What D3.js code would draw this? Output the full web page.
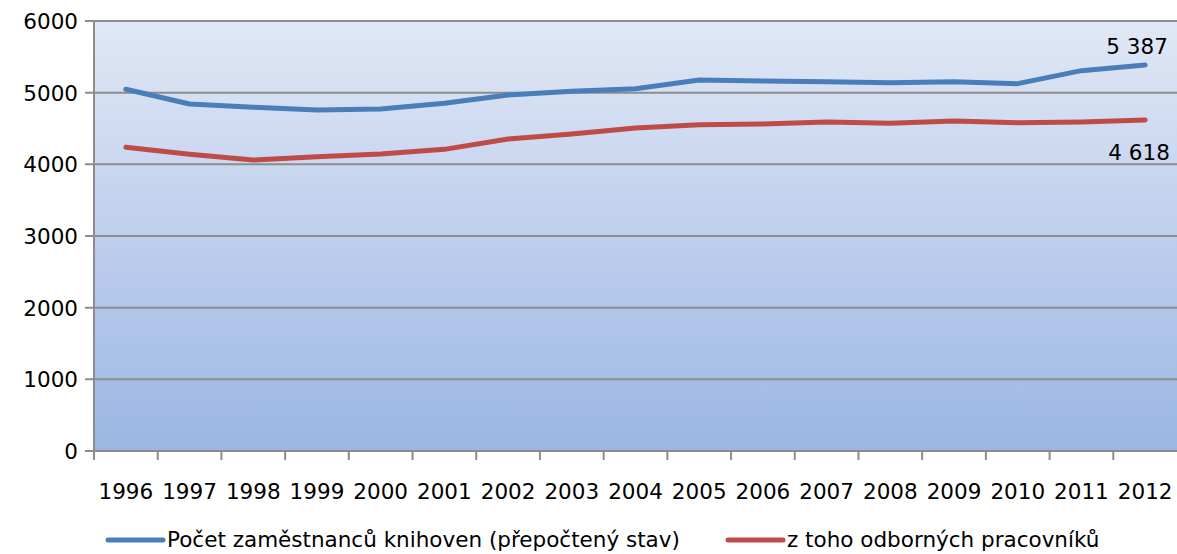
<!DOCTYPE html>
<html>
<head>
<meta charset="utf-8">
<script src="https://cdn.jsdelivr.net/npm/d3@7"></script>
<style>
  body { margin: 0; background: #fff; }
  svg { display: block; font-family: "DejaVu Sans", sans-serif; }
</style>
</head>
<body>
<div id="chart"></div>
<script>
var years = ["1996","1997","1998","1999","2000","2001","2002","2003","2004",
             "2005","2006","2007","2008","2009","2010","2011","2012"];
var staffTotal = [5047,4842,4796,4757,4772,4852,4968,5019,5056,5177,5164,5154,5140,5154,5126,5307,5387];
var staffPro   = [4237,4140,4060,4106,4144,4209,4353,4423,4507,4553,4563,4591,4573,4605,4581,4591,4618];
var seriesNames = ["Počet zaměstnanců knihoven (přepočtený stav)", "z toho odborných pracovníků"];
var yTicks = [0,1000,2000,3000,4000,5000,6000];

var W = 1177, H = 554;
var m = {t: 21, r: 0, b: 103, l: 94};
var w = W - m.l - m.r, h = H - m.t - m.b;
var fs = 21.5;

var svg = d3.select("#chart").append("svg")
    .attr("width", W).attr("height", H);

var defs = svg.append("defs");
var grad = defs.append("linearGradient").attr("id", "bg")
    .attr("x1", 0).attr("y1", 0).attr("x2", 0).attr("y2", 1);
grad.append("stop").attr("offset", "0%").attr("stop-color", "#e1e8f5");
grad.append("stop").attr("offset", "100%").attr("stop-color", "#9bb6e4");

var g = svg.append("g").attr("transform", "translate(" + m.l + "," + m.t + ")");

var x = d3.scaleBand().domain(years).range([0, w]);
var y = d3.scaleLinear().domain([0, 6000]).range([h, 0]);

g.append("rect").attr("width", w).attr("height", h).attr("fill", "url(#bg)");

// gridlines + y ticks
g.selectAll(".grid").data(yTicks).enter().append("line")
    .attr("x1", -9).attr("x2", w)
    .attr("y1", function(d){ return y(d); }).attr("y2", function(d){ return y(d); })
    .attr("stroke", "#8c8c8c").attr("stroke-width", 2);

g.selectAll(".ylab").data(yTicks).enter().append("text")
    .attr("x", -16).attr("y", function(d){ return y(d) + 8; })
    .attr("text-anchor", "end").attr("font-size", fs).attr("fill", "#000")
    .text(function(d){ return d; });

// y axis line
g.append("line").attr("x1", 0).attr("x2", 0).attr("y1", 0).attr("y2", h)
    .attr("stroke", "#8c8c8c").attr("stroke-width", 2);

// x ticks at category boundaries
var bounds = years.map(function(d){ return x(d); });
g.selectAll(".xt").data(bounds).enter().append("line")
    .attr("x1", function(d){ return d; }).attr("x2", function(d){ return d; })
    .attr("y1", h).attr("y2", h + 9)
    .attr("stroke", "#8c8c8c").attr("stroke-width", 2);

g.selectAll(".xlab").data(years).enter().append("text")
    .attr("x", function(d){ return x(d) + x.bandwidth() / 2; })
    .attr("y", h + 48)
    .attr("text-anchor", "middle").attr("font-size", fs).attr("fill", "#000")
    .text(function(d){ return d; });

var line = d3.line()
    .x(function(d, i){ return x(years[i]) + x.bandwidth() / 2; })
    .y(function(d){ return y(d); });

var colors = ["#4a7ebb", "#be4b48"];
[staffTotal, staffPro].forEach(function(s, k){
    g.append("path").datum(s).attr("d", line)
        .attr("fill", "none").attr("stroke", colors[k])
        .attr("stroke-width", 5).attr("stroke-linecap", "round").attr("stroke-linejoin", "round");
});

// end labels
var fmt = function(v){ return d3.format(",")(v).replace(/,/g, " "); };
var last = years.length - 1;
var lx = x(years[last]) + x.bandwidth() / 2;
g.append("text").attr("x", lx - 8).attr("y", y(staffTotal[last]) - 11)
    .attr("text-anchor", "middle").attr("font-size", fs).text(fmt(staffTotal[last]));
g.append("text").attr("x", lx - 6).attr("y", y(staffPro[last]) + 40)
    .attr("text-anchor", "middle").attr("font-size", fs).text(fmt(staffPro[last]));

// legend
var legX = [108, 728];
seriesNames.forEach(function(name, k){
    svg.append("line").attr("x1", legX[k]).attr("x2", legX[k] + 55)
        .attr("y1", 540).attr("y2", 540)
        .attr("stroke", colors[k]).attr("stroke-width", 5).attr("stroke-linecap", "round");
    svg.append("text").attr("x", legX[k] + 59).attr("y", 547)
        .attr("font-size", fs).attr("fill", "#000").text(name);
});
</script>
</body>
</html>
